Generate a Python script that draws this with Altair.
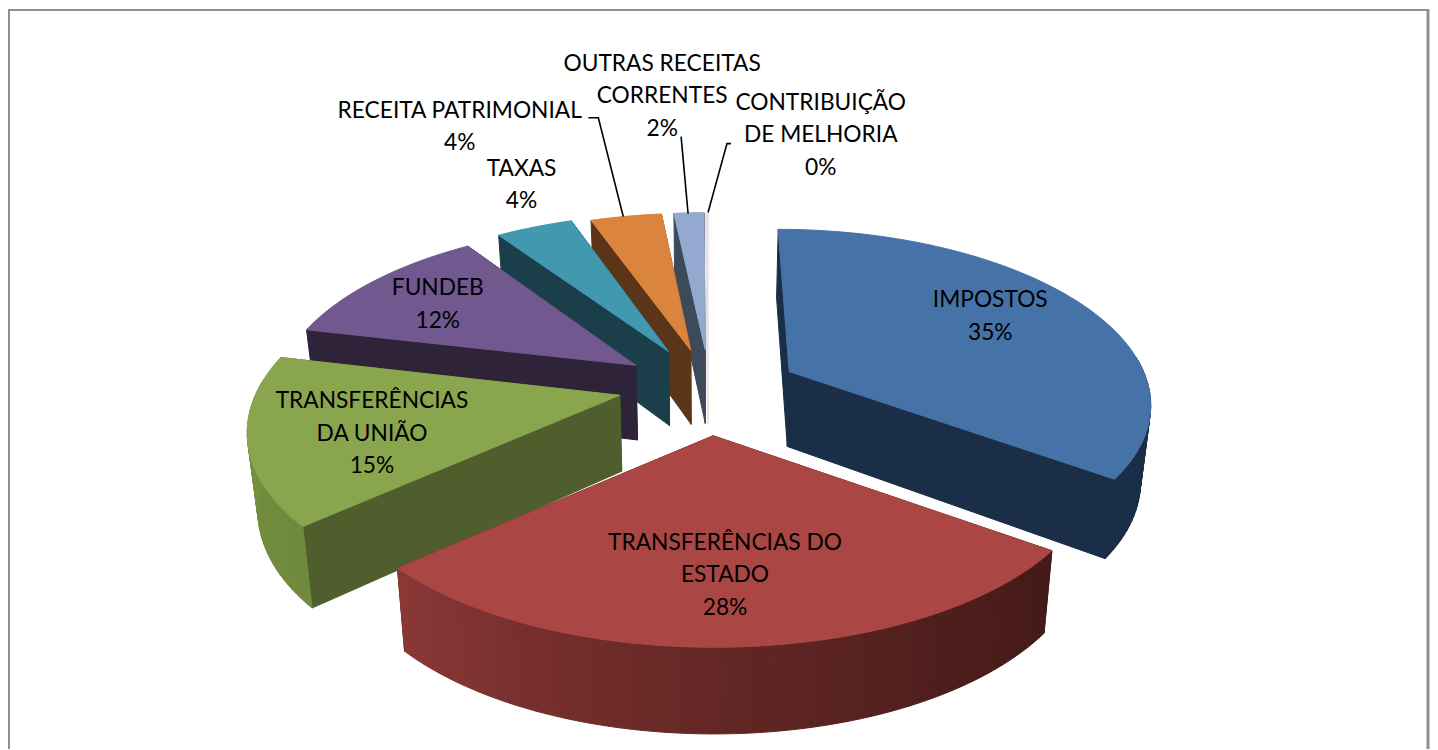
import math
import altair as alt
import pandas as pd

CATEGORIES = ["IMPOSTOS", "TRANSFERÊNCIAS DO ESTADO", "TRANSFERÊNCIAS DA UNIÃO", "FUNDEB",
              "TAXAS", "RECEITA PATRIMONIAL", "OUTRAS RECEITAS CORRENTES", "CONTRIBUIÇÃO DE MELHORIA"]
SHARES = [35.0, 28.4, 15.2, 11.8, 4.1, 3.8, 1.6, 0.1]
TOP_COLORS = ["#4572a7", "#aa4643", "#89a54e", "#71588f", "#4198af", "#db843d", "#93a9cf", "#e8dfe0"]
CUT_COLORS = ["#1a2e47", "#451a18", "#4f5e2c", "#2e2339", "#1a3f4a", "#5b3518", "#3c4a5c", "#e8dfe0"]
WALL_START = ["#1a2e47", "#451a18", "#6f8a3c", "#2e2339", "#1a3f4a", "#5b3518", "#3c4a5c", "#e8dfe0"]
WALL_END = ["#1a2e47", "#8b3836", "#7a9544", "#2e2339", "#1a3f4a", "#5b3518", "#3c4a5c", "#e8dfe0"]
LABEL_LINES = [
    (["IMPOSTOS"], 993, 300),
    (["TRANSFERÊNCIAS DO", "ESTADO"], 727, 543),
    (["TRANSFERÊNCIAS", "DA UNIÃO"], 373, 401),
    (["FUNDEB"], 439, 288),
    (["TAXAS"], 523, 168),
    (["RECEITA PATRIMONIAL"], 461, 110),
    (["OUTRAS RECEITAS", "CORRENTES"], 664, 63),
    (["CONTRIBUIÇÃO", "DE MELHORIA"], 823, 102),
]
LEADERS = [
    [(590, 117), (600, 117), (625, 216)],
    [(683, 136), (690, 213)],
    [(733, 143), (729, 143), (710, 212)],
]
# per-slice nudge of the exploded position (pixels) and rim size
NUDGE = [(3, 0), (0.5, 3), (-1, -5), (0, -2), (0, -3), (2, -1), (2, -1), (0, 0)]
RADIUS_X = [0.97, 0.975, 0.97, 0.97, 0.97, 0.97, 0.97, 0.97]
RADIUS_Y = [1.0, 0.95, 1.0, 1.0, 1.0, 1.0, 1.0, 1.0]

CX, CY, F, G, K, EXPL, SHRINK = 710, 390, 373, 172, 0.166, 0.24, 0.977
FONT, FONT_SIZE, LEAD = "Lato", 22.8, 32.7
W, H = 1426, 742


def project(ax, ay):
    d = 1 + K * ay
    return CX + F * ax / d, CY - G * ay / d


def lower(p):
    return CX + (p[0] - CX) * SHRINK, p[1] + 75 + (p[1] - 370) * 0.043


def mix(c0, c1, t):
    a = [int(c0[i:i + 2], 16) for i in (1, 3, 5)]
    b = [int(c1[i:i + 2], 16) for i in (1, 3, 5)]
    return "#" + "".join(f"{round(u + (v - u) * t):02x}" for u, v in zip(a, b))


rows, sid = [], 0


def poly(points, color):
    global sid
    for i, (x, y) in enumerate(points + points[:1]):
        rows.append(dict(shape=f"s{sid:04d}", i=i, x=x, y=y, col=color))
    sid += 1


total = sum(SHARES)
bounds, acc = [], 0.0
for v in SHARES:
    bounds.append((acc / total * 360, (acc + v) / total * 360))
    acc += v

for k in [7, 6, 5, 4, 3, 2, 0, 1]:
    a0, a1 = bounds[k]
    mid = math.radians((a0 + a1) / 2)
    ox, oy = EXPL * math.sin(mid), EXPL * math.cos(mid)
    nx, ny = NUDGE[k]
    n = max(3, int((a1 - a0) / 1.5))
    ang = [a0 + (a1 - a0) * j / n for j in range(n + 1)]
    rim = [project(ox + RADIUS_X[k] * math.sin(math.radians(t)),
                   oy + RADIUS_Y[k] * math.cos(math.radians(t))) for t in ang]
    rim = [(x + nx, y + ny) for x, y in rim]
    apex = project(ox, oy)
    apex = (apex[0] + nx, apex[1] + ny)
    faces = []
    for r in (rim[0], rim[-1]):
        faces.append([apex, r, lower(r), lower(apex)])
    faces.sort(key=lambda f: f[1][1])
    for f in faces:
        poly(f, CUT_COLORS[k])
    for j in range(n):
        t = (ang[j] + ang[j + 1]) / 2
        if 85 <= t <= 275:
            c = mix(WALL_START[k], WALL_END[k], ((t - a0) / max(a1 - a0, 1)) ** 1.3)
            poly([rim[j], rim[j + 1], lower(rim[j + 1]), lower(rim[j])], c)
    poly([apex] + rim, TOP_COLORS[k])

df = pd.DataFrame(rows)

text_rows = []
for k, (lines, tx, ty) in enumerate(LABEL_LINES):
    all_lines = lines + [f"{round(SHARES[k])}%"]
    for j, s in enumerate(all_lines):
        text_rows.append(dict(t=s, x=tx, y=ty + j * LEAD))
tdf = pd.DataFrame(text_rows)

ldf = pd.DataFrame([dict(l=a, i=i, x=p[0], y=p[1]) for a, line in enumerate(LEADERS) for i, p in enumerate(line)])
fdf = pd.DataFrame(dict(i=[0, 1, 2, 3], x=[8.5, 8.5, 1432, 1432], y=[760, 8.5, 8.5, 760]))

X = alt.X("x:Q", scale=alt.Scale(domain=[8, 8 + W]), axis=None)
Y = alt.Y("y:Q", scale=alt.Scale(domain=[8 + H, 8]), axis=None)

frame = alt.Chart(fdf).mark_line(color="#8f8f8f", strokeWidth=3, clip=True).encode(X, Y, order="i:Q")
slices = alt.Chart(df).mark_line(strokeWidth=1).encode(
    X, Y, order="i:Q", detail="shape:N",
    fill=alt.Fill("col:N", scale=None), stroke=alt.Stroke("col:N", scale=None))
leaders = alt.Chart(ldf).mark_line(color="#000000", strokeWidth=1.6).encode(X, Y, order="i:Q", detail="l:N")
labels = alt.Chart(tdf).mark_text(font=FONT, fontSize=FONT_SIZE, color="#000000", align="center", baseline="middle").encode(X, Y, text="t:N")

chart = alt.layer(frame, slices, leaders, labels).properties(width=W, height=H, padding=0).configure_view(stroke=None)
chart.save("out.html", embed_options={"renderer": "svg", "actions": False})
